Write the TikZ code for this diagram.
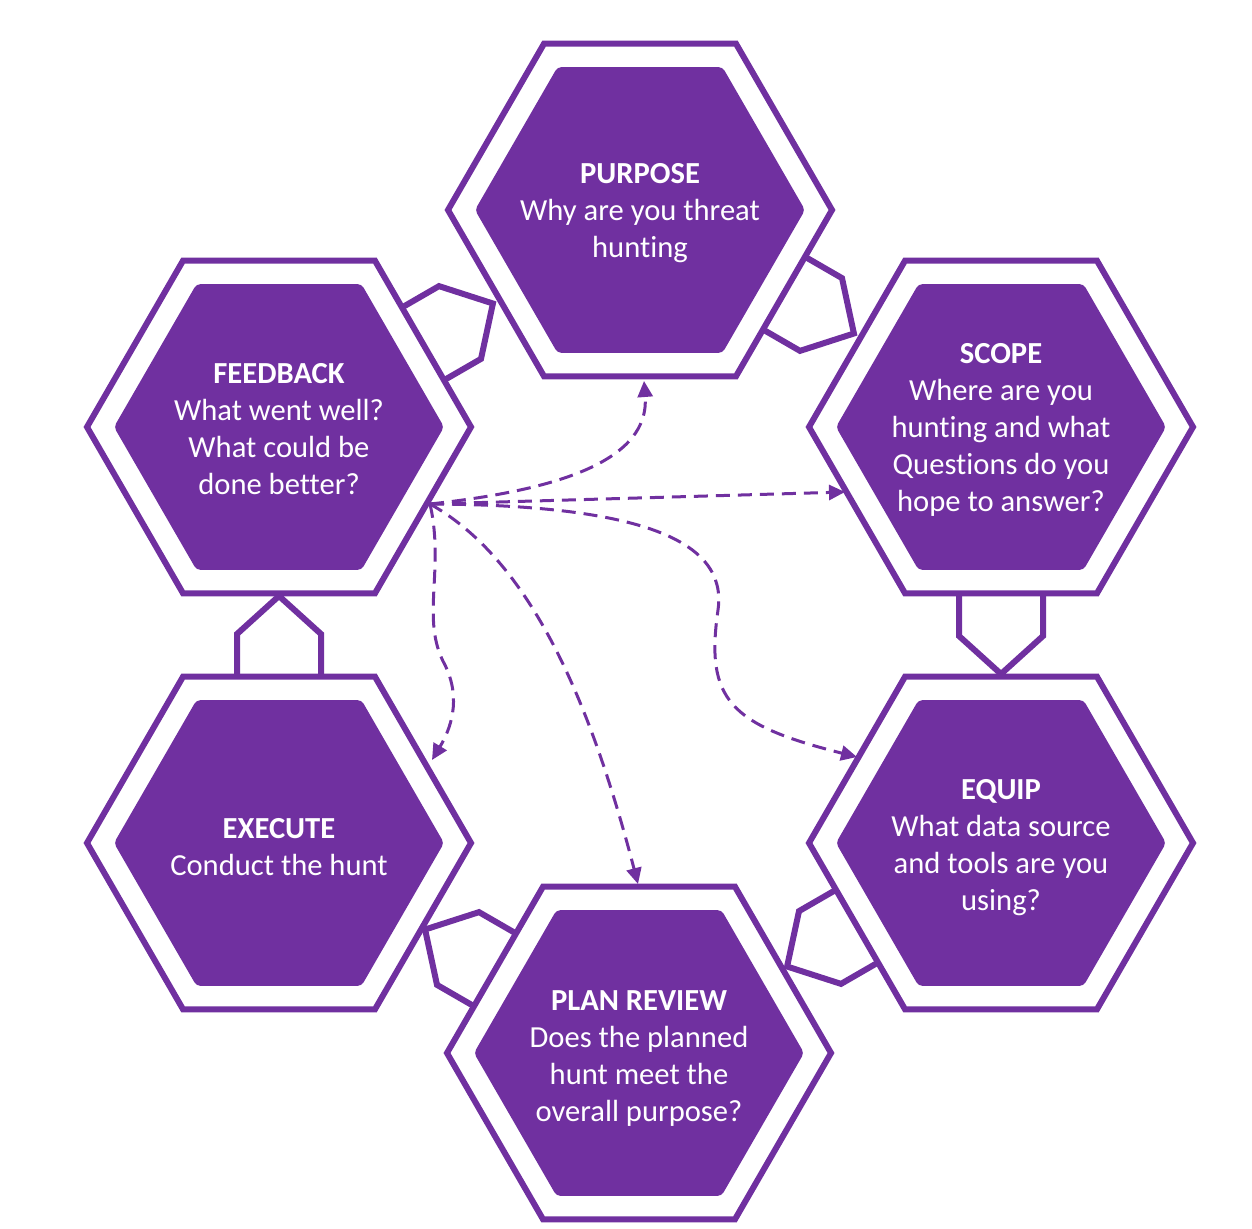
\documentclass[tikz,border=0pt]{standalone}
\usepackage{fontspec}
\setmainfont{Carlito}[Ligatures={NoCommon}]
\usetikzlibrary{calc,arrows.meta}
\definecolor{hexpurple}{HTML}{7030A0}
\newcommand{\hexcell}[1]{%
  \fill[innerhex] (#1) +(0:165) -- +(60:165) -- +(120:165) -- +(180:165) -- +(240:165) -- +(300:165) -- cycle;
  \draw[outerhex] (#1) +(0:192) -- +(60:192) -- +(120:192) -- +(180:192) -- +(240:192) -- +(300:192) -- cycle;
}
\newcommand{\hexlink}[2]{% source, angle
  \draw[linkshape] ($(#1)+(#2:166)+(#2+90:42)$) -- ($(#1)+(#2:209)+(#2+90:42)$) -- ($(#1)+(#2:247)$) -- ($(#1)+(#2:209)+(#2-90:42)$) -- ($(#1)+(#2:166)+(#2-90:42)$);
}
\begin{document}
\begin{tikzpicture}[x=0.5pt,y=-0.5pt,
  outerhex/.style={draw=hexpurple,line width=3pt,line join=miter},
  innerhex/.style={fill=hexpurple,rounded corners=2pt},
  linkshape/.style={draw=hexpurple,line width=3pt,line join=miter},
  hextext/.style={text=white,align=center,font=\fontsize{15.3}{18.5}\selectfont,inner sep=0pt},
  flow/.style={draw=hexpurple,line width=1.5pt,dash pattern=on 7pt off 4pt,-{Triangle[length=8pt,width=7.5pt]}},
]
\useasboundingbox (0,0) rectangle (1252,1229);
% centres
\coordinate (P) at (640,210);
\coordinate (S) at (1001,427);
\coordinate (Q) at (1001,843);
\coordinate (R) at (639,1053);
\coordinate (X) at (279,843);
\coordinate (F) at (279,427);
% hexagons
\hexcell{P}
\hexcell{S}
\hexcell{Q}
\hexcell{R}
\hexcell{X}
\hexcell{F}
% links
\hexlink{F}{-30}
\hexlink{P}{30}
\hexlink{S}{90}
\hexlink{Q}{150}
\hexlink{R}{210}
\hexlink{X}{270}
% texts
\node[hextext] (Ptext) at (640,213) {\textbf{PURPOSE}\\Why are you threat\\hunting};
\node[hextext] (Stext) at (1001,430) {\textbf{SCOPE}\\Where are you\\hunting and what\\Questions do you\\hope to answer?};
\node[hextext] (Qtext) at (1001,848) {\textbf{EQUIP}\\What data source\\and tools are you\\using?};
\node[hextext] (Rtext) at (639,1059) {\textbf{PLAN REVIEW}\\Does the planned\\hunt meet the\\overall purpose?};
\node[hextext] (Xtext) at (279,847) {\textbf{EXECUTE}\\Conduct the hunt};
\node[hextext] (Ftext) at (279,429) {\textbf{FEEDBACK}\\What went well?\\What could be\\done better?};
% dashed arrows
\coordinate (fb) at (430,504);
\coordinate (toP) at (644,381);
\coordinate (toS) at (845,492);
\coordinate (toQ) at (857,757);
\coordinate (toR) at (638,884);
\coordinate (toX) at (432,760);
\draw[flow] (fb) .. controls (560,490) and (650,460) .. (toP);
\draw[flow] (fb) -- (toS);
\draw[flow] (fb) .. controls (640,505) and (728,540) .. (718,610) .. controls (705,700) and (730,725) .. (toQ);
\draw[flow] (fb) .. controls (530,560) and (590,700) .. (toR);
\draw[flow] (fb) .. controls (445,570) and (420,620) .. (445,665) .. controls (462,700) and (450,730) .. (toX);
\end{tikzpicture}
\end{document}
